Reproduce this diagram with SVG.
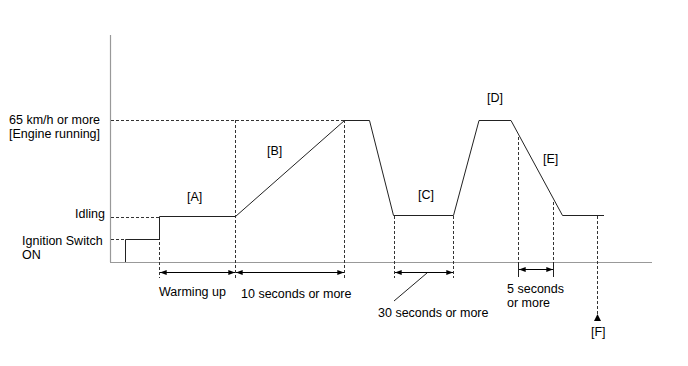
<svg xmlns="http://www.w3.org/2000/svg" width="688" height="366" viewBox="0 0 688 366">
<defs>
<marker id="ah" viewBox="0 0 8 6" refX="8" refY="3" markerWidth="8" markerHeight="5" markerUnits="userSpaceOnUse" orient="auto-start-reverse">
<path d="M0,0 L8,3 L0,6 Z" fill="#000"/>
</marker>
</defs>
<style>
text{font-family:"Liberation Sans",Arial,sans-serif;font-size:12.5px;fill:#000}
.ax{stroke:#999;stroke-width:1.2;fill:none}
.pl{stroke:#222;stroke-width:1;fill:none}
.ds{stroke:#333;stroke-width:1;stroke-dasharray:3,2;fill:none}
.tk{stroke:#222;stroke-width:1;fill:none}
.ar{stroke:#000;stroke-width:1;fill:none;marker-start:url(#ah);marker-end:url(#ah)}
</style>
<rect width="688" height="366" fill="#fff"/>
<g id="axes">
<line class="ax" x1="110.5" y1="35" x2="110.5" y2="262"/>
<line class="ax" x1="110" y1="262.5" x2="652" y2="262.5"/>
</g>
<g id="guides">
<line class="ds" x1="111" y1="120.5" x2="344" y2="120.5"/>
<line class="ds" x1="111" y1="217.5" x2="159" y2="217.5"/>
<line class="ds" x1="111" y1="239.5" x2="125" y2="239.5"/>
<line class="ds" x1="159.5" y1="217" x2="159.5" y2="278"/>
<line class="ds" x1="235.5" y1="120" x2="235.5" y2="278"/>
<line class="ds" x1="344.5" y1="120" x2="344.5" y2="278"/>
<line class="ds" x1="394.5" y1="216" x2="394.5" y2="278"/>
<line class="ds" x1="453.5" y1="216" x2="453.5" y2="278"/>
<line class="ds" x1="518.5" y1="137" x2="518.5" y2="262"/>
<line class="ds" x1="553.5" y1="202" x2="553.5" y2="262"/>
<line class="ds" x1="597.5" y1="216" x2="597.5" y2="316"/>
</g>
<g id="curve">
<polyline class="pl" points="125.5,262 125.5,239.5 159.5,239.5 159.5,216.5 235.5,216.5 344.5,120.5 369.5,120.5 393.5,215.5 453.5,215.5 479,120.5 511,120.5 562.5,215.5 604,215.5"/>
</g>
<g id="connectors">
<line class="tk" x1="518.5" y1="262" x2="518.5" y2="277"/>
<line class="tk" x1="553.5" y1="262" x2="553.5" y2="277"/>
<line class="ar" x1="160" y1="272.5" x2="235" y2="272.5"/>
<line class="ar" x1="236" y1="272.5" x2="344" y2="272.5"/>
<line class="ar" x1="395" y1="272.5" x2="453" y2="272.5"/>
<line class="ar" x1="519" y1="269.5" x2="553" y2="269.5"/>
<line class="tk" x1="427" y1="273" x2="394" y2="301"/>
<path d="M597.5,314 L594,321 L601,321 Z" fill="#000"/>
</g>
<g id="labels">
<text x="9" y="124">65 km/h or more</text>
<text x="9" y="138">[Engine running]</text>
<text x="105" y="218" text-anchor="end">Idling</text>
<text x="22" y="245">Ignition Switch</text>
<text x="22" y="259">ON</text>
<text x="187" y="201">[A]</text>
<text x="267" y="155">[B]</text>
<text x="418" y="199">[C]</text>
<text x="487" y="102">[D]</text>
<text x="543" y="163">[E]</text>
<text x="159" y="296">Warming up</text>
<text x="241" y="298">10 seconds or more</text>
<text x="378" y="317">30 seconds or more</text>
<text x="507" y="293">5 seconds</text>
<text x="507" y="307">or more</text>
<text x="591" y="336">[F]</text>
</g>
</svg>
